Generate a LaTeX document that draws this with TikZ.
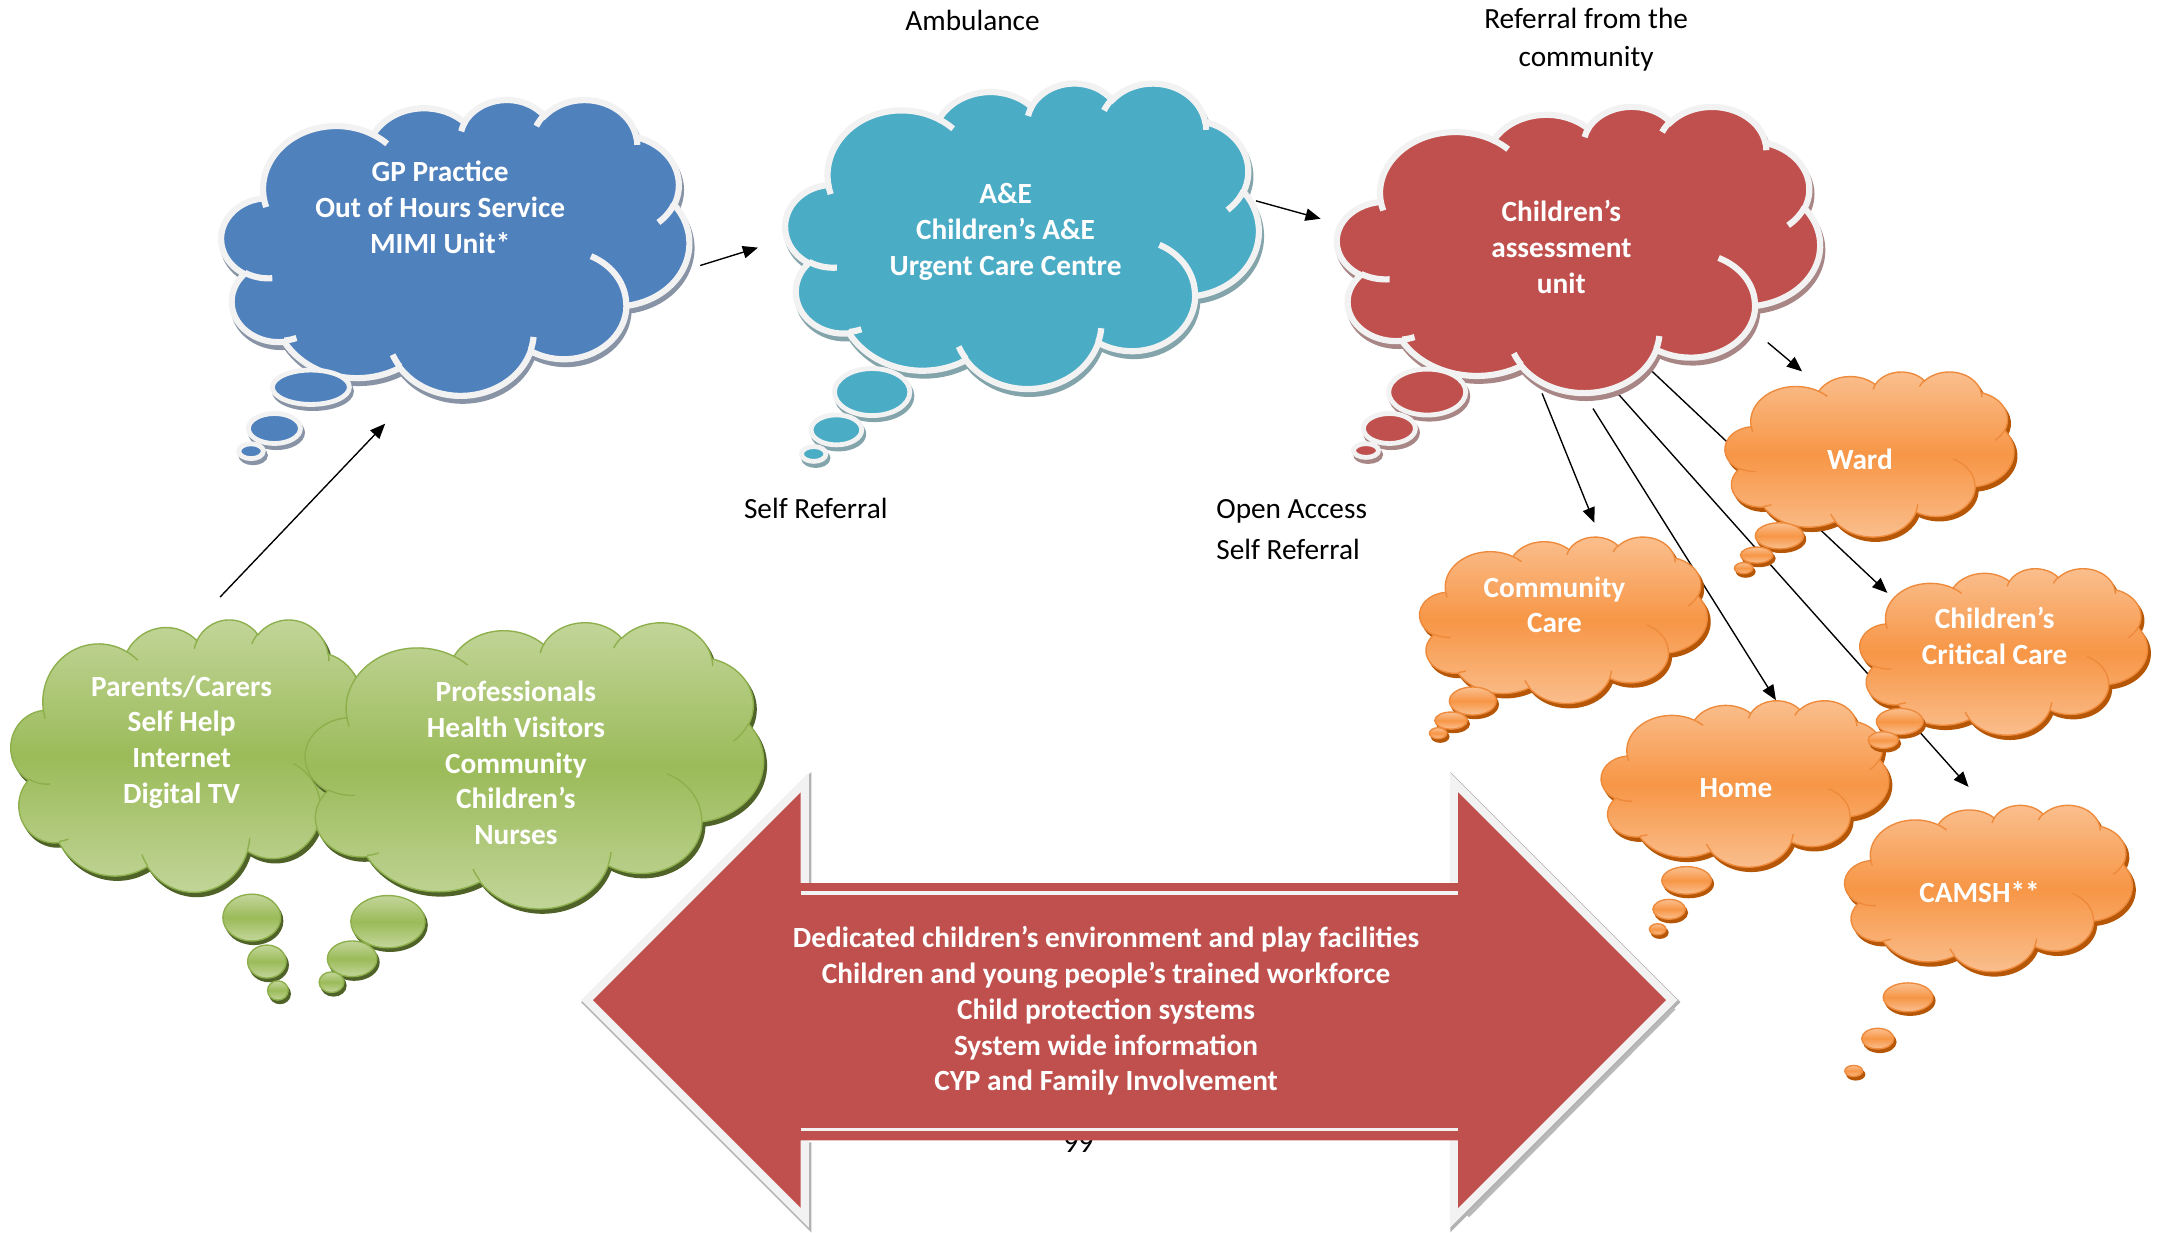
\documentclass[tikz,border=0pt]{standalone}
\usepackage{fontspec}
\setmainfont{Carlito}
\usetikzlibrary{arrows.meta}
\definecolor{cblue}{HTML}{4F81BD}
\definecolor{cteal}{HTML}{4BACC6}
\definecolor{cred}{HTML}{C0504D}
\definecolor{cbluebev}{HTML}{8894A6}
\definecolor{ctealbev}{HTML}{84A4AC}
\definecolor{credbev}{HTML}{A88686}
\definecolor{cbord}{HTML}{F2F2F2}
\definecolor{corange}{HTML}{F79646}
\definecolor{corangel}{HTML}{FAC090}
\definecolor{cornline}{HTML}{EE8A3C}
\definecolor{corangesh}{HTML}{B65708}
\definecolor{cgreen}{HTML}{9BBB59}
\definecolor{cgreenl}{HTML}{C3D69B}
\definecolor{cgrnline}{HTML}{8DAF4C}
\definecolor{cgreensh}{HTML}{4F6228}
\newcommand\carc[4]{arc[x radius=#1,y radius=#2,start angle={atan2(#1*sin(#3),#2*cos(#3))},delta angle={mod(atan2(#1*sin(#3+#4),#2*cos(#3+#4))-atan2(#1*sin(#3),#2*cos(#3))+720,360)}]}
\newcommand\cloudpath{(39.00,143.70) \carc{67.53}{91.90}{-190.48748}{123.78053} \carc{53.33}{72.67}{-144.10238}{89.94523} \carc{43.65}{59.45}{-145.80792}{99.72302} \carc{48.57}{65.95}{-130.98607}{117.24173} \carc{53.33}{72.73}{-78.70888}{109.02692} \carc{67.75}{92.20}{-46.26725}{130.269} \carc{57.85}{78.67}{0.62502}{114.03333} \carc{67.52}{92.15}{22.4516}{115.17255} \carc{77.20}{105.43}{66.24263}{75.71102} \carc{43.60}{59.18}{-274.94208}{146.73557} \carc{43.45}{59.45}{-246.8285}{152.51885} -- cycle}
\newcommand\cloudinner{(46.93,261.77) \carc{43.45}{59.45}{86.742}{26.4295} (69.28,348.99) \carc{43.60}{59.18}{73.61047}{11.44747} (164.78,390.90) \carc{67.52}{92.15}{137.62415}{14.0811} (288.27,347.51) \carc{67.52}{92.15}{6.45327}{15.99835} (341.29,229.54) \carc{57.85}{78.67}{-70.29235}{70.91737} (417.98,153.54) \carc{53.33}{72.73}{30.31803}{27.7515} (383.24,54.26) \carc{48.57}{65.95}{-13.74433}{14.8589} (290.78,39.52) \carc{48.57}{65.95}{-149.18145}{18.19537} (221.41,47.20) \carc{43.65}{59.45}{-163.49427}{17.68635} (140.00,51.92) \carc{67.53}{91.90}{-66.70695}{12.31935} (41.27,157.89) \carc{67.53}{91.90}{157.65435}{11.85817}}
\newcommand\cloudA[6]{%
 \begin{scope}[shift={(#1+1.5,#2+3.5)},xscale=#3/432,yscale=#4/432]
  \draw[#6,line width=4.5pt,fill=#6] \cloudpath;
 \end{scope}
 \begin{scope}[shift={(#1,#2)},xscale=#3/432,yscale=#4/432]
  \draw[cbord,line width=4.5pt,fill=#5] \cloudpath;
  \draw[cbord,line width=4.5pt] \cloudinner;
 \end{scope}}
\newcommand\bubA[6]{%
  \draw[#6,line width=3.5pt,fill=#6] (#1+1.5,#2+3) ellipse[x radius=#3,y radius=#4];
  \draw[cbord,line width=3.5pt,fill=#5] (#1,#2) ellipse[x radius=#3,y radius=#4];}
\newcommand\cloudB[7]{%
 \begin{scope}[shift={(#1+2,#2+3)},xscale=#3/432,yscale=#4/432]
  \path[#6] \cloudpath;
 \end{scope}
 \begin{scope}[shift={(#1,#2)},xscale=#3/432,yscale=#4/432]
  \path[#5] \cloudpath;
  \draw[#7,line width=1pt] \cloudinner;
 \end{scope}}
\newcommand\bubB[6]{%
  \path[#6] (#1+1.5,#2+2.5) ellipse[x radius=#3,y radius=#4];
  \path[#5] (#1,#2) ellipse[x radius=#3,y radius=#4];}
\begin{document}
\begin{tikzpicture}[x=1pt,y=-1pt,
  ctext/.style={text=white,font=\bfseries\fontsize{21.3}{26}\selectfont,align=center,inner sep=0pt},
  ltext/.style={text=black,font=\fontsize{21.3}{27}\selectfont,align=center,inner sep=0pt},
  conn/.style={line width=1pt,-{Triangle[length=11pt,width=9pt]}},
  orfill/.style={draw=cornline,line width=1pt,top color=corangel,bottom color=corangel,middle color=corange},
  orshad/.style={draw=corangesh,line width=1pt,fill=corangesh},
  grfill/.style={draw=cgrnline,line width=1pt,top color=cgreenl,bottom color=cgreenl,middle color=cgreen},
  grshad/.style={draw=cgreensh,line width=1pt,fill=cgreensh}]
\useasboundingbox (0,0) rectangle (1568,896);
\fill[white] (0,0) rectangle (1568,896);
% page number behind arrow
\node[ltext,anchor=base] (tpage) at (784,838) {99};
% big double arrow
\begin{scope}[shift={(1,1.5)}]
\draw[gray!60,line width=13.5pt,line join=miter] (582,642) -- (582,576) -- (431,727) -- (582,878) -- (582,829);
\draw[gray!60,line width=13.5pt,line join=miter] (1060,642) -- (1060,576) -- (1211,727) -- (1060,878) -- (1060,829);
\end{scope}
\draw[gray!55,line width=2.5pt] (1217,733) -- (1067,884);
\draw[cbord,line width=12pt,line join=miter] (582,642) -- (582,576) -- (431,727) -- (582,878) -- (582,829);
\draw[cbord,line width=12pt,line join=miter] (1060,642) -- (1060,576) -- (1211,727) -- (1060,878) -- (1060,829);
\fill[cred] (431,727) -- (582,576) -- (582,642) -- (1060,642) -- (1060,576) -- (1211,727) -- (1060,878) -- (1060,829) -- (582,829) -- (582,878) -- cycle;
\draw[cbord,line width=2.5pt] (582,649) -- (1060,649) (582,821) -- (1060,821);
% connector end points
\coordinate (s1) at (160,434); \coordinate (e1) at (280,308);
\coordinate (s2) at (509,193); \coordinate (e2) at (551,180);
\coordinate (s3) at (913,146); \coordinate (e3) at (960,159);
\coordinate (s4) at (1285,249); \coordinate (e4) at (1310,270);
\coordinate (s5) at (1121,286); \coordinate (e5) at (1159,380);
\coordinate (s6) at (1158,297); \coordinate (e6) at (1291,509);
\coordinate (s7) at (1176,286); \coordinate (e7) at (1431,572);
\coordinate (s8) at (1201,270); \coordinate (e8) at (1372,431);
\foreach \i in {1,...,8} {\draw[conn] (s\i) -- (e\i);}
% blue / teal / red clouds
\cloudA{161}{72}{340}{215}{cblue}{cbluebev}
\bubA{226}{281.5}{28}{12.5}{cblue}{cbluebev}
\bubA{199.5}{311.5}{18.9}{10.9}{cblue}{cbluebev}
\bubA{182.5}{328}{8.9}{5.4}{cblue}{cbluebev}
\cloudA{571}{60}{344}{222}{cteal}{ctealbev}
\bubA{634}{285}{27.4}{17.1}{cteal}{ctealbev}
\bubA{608}{312.5}{18.4}{10.9}{cteal}{ctealbev}
\bubA{591.5}{330}{8.9}{5.4}{cteal}{ctealbev}
\cloudA{972}{77}{351}{208}{cred}{credbev}
\bubA{1037.5}{285}{28}{16.7}{cred}{credbev}
\bubA{1010}{311.5}{18.9}{10.9}{cred}{credbev}
\bubA{993}{327.5}{9.1}{5}{cred}{credbev}
% green clouds
\cloudB{8}{450}{260}{198}{grfill}{grshad}{cgrnline}
\bubB{183}{667}{21}{17}{grfill}{grshad}
\bubB{194}{699}{14}{12}{grfill}{grshad}
\bubB{202}{720}{7.5}{7}{grfill}{grshad}
\cloudB{222}{452}{333}{208}{grfill}{grshad}{cgrnline}
\bubB{282}{670}{27}{19}{grfill}{grshad}
\bubB{256}{697}{18}{13}{grfill}{grshad}
\bubB{241}{714}{9}{7.5}{grfill}{grshad}
% orange clouds
\cloudB{1254}{270}{210}{120}{orfill}{orshad}{cornline}
\bubB{1293.5}{389.5}{17.5}{9.5}{orfill}{orshad}
\bubB{1277}{403.5}{11.8}{5.8}{orfill}{orshad}
\bubB{1267.5}{413}{6.7}{4}{orfill}{orshad}
\cloudB{1032}{390}{209}{121}{orfill}{orshad}{cornline}
\bubB{1070.6}{509.6}{17}{10.2}{orfill}{orshad}
\bubB{1054.8}{523.8}{11.8}{6.2}{orfill}{orshad}
\bubB{1045.4}{533}{6.3}{4}{orfill}{orshad}
\cloudB{1164}{509}{209}{121}{orfill}{orshad}{cornline}
\bubB{1226}{640}{18}{10}{orfill}{orshad}
\bubB{1213.3}{661}{11.8}{7.2}{orfill}{orshad}
\bubB{1205}{675.5}{6}{4}{orfill}{orshad}
\cloudB{1352}{413}{209}{121}{orfill}{orshad}{cornline}
\bubB{1381}{524.5}{17}{9.5}{orfill}{orshad}
\bubB{1369}{538}{11}{6}{orfill}{orshad}
\cloudB{1341}{585}{209}{121}{orfill}{orshad}{cornline}
\bubB{1387}{725}{18}{10.5}{orfill}{orshad}
\bubB{1365}{755}{11.7}{7.5}{orfill}{orshad}
\bubB{1347.5}{778.5}{6.5}{4}{orfill}{orshad}
% texts (base anchor = baseline of last line)
\node[ctext,anchor=base] (tgp) at (320,184) {GP Practice\\Out of Hours Service\\MIMI Unit*};
\node[ctext,anchor=base] (tae) at (731,200) {A\&E\\Children’s A\&E\\Urgent Care Centre};
\node[ctext,anchor=base] (tcau) at (1135,213) {Children’s\\assessment\\unit};
\node[ctext,anchor=base] (tpar) at (132,584) {Parents/Carers\\Self Help\\Internet\\Digital TV};
\node[ctext,anchor=base] (tpro) at (375,614) {Professionals\\Health Visitors\\Community\\Children’s\\Nurses};
\node[ctext,anchor=base] (tward) at (1352,341) {Ward};
\node[ctext,anchor=base] (tcom) at (1130,460) {Community\\Care};
\node[ctext,anchor=base] (tcrit) at (1450,483) {Children’s\\Critical Care};
\node[ctext,anchor=base] (thome) at (1262,580) {Home};
\node[ctext,anchor=base] (tcam) at (1439,656) {CAMSH**};
\node[ctext,anchor=base] (tarrow) at (804,793) {Dedicated children’s environment and play facilities\\Children and young people’s trained workforce\\Child protection systems\\System wide information\\CYP and Family Involvement};
\node[ltext,anchor=base] (tamb) at (707,22) {Ambulance};
\node[ltext,anchor=base] (tref) at (1153,48) {Referral from the\\community};
\node[ltext,anchor=base] (tself) at (593,377) {Self Referral};
\node[ltext,anchor=base west,align=left,font=\fontsize{21.3}{30}\selectfont] (topen) at (884,407) {Open Access\\Self Referral};
\end{tikzpicture}
\end{document}
